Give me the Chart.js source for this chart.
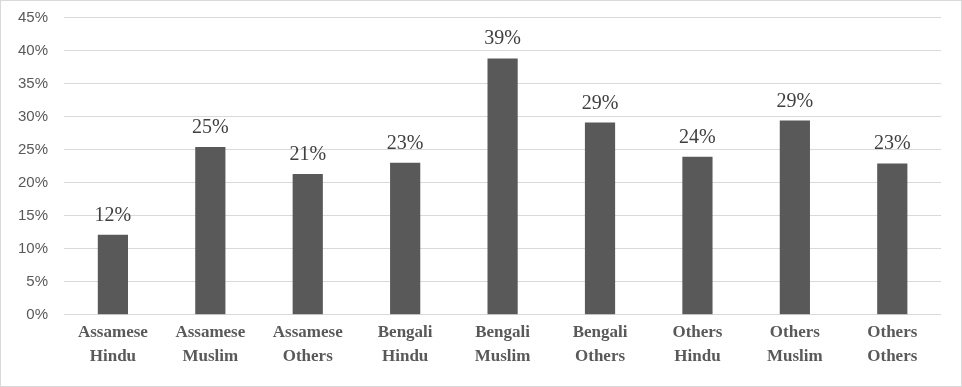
<!DOCTYPE html>
<html>
<head>
<meta charset="utf-8">
<script src="https://cdn.jsdelivr.net/npm/chart.js@4/dist/chart.umd.min.js"></script>
<style>
  html, body { margin: 0; padding: 0; background: #fff; }
  #wrap { width: 960px; height: 385px; border: 1px solid #d9d9d9; position: relative; }
</style>
</head>
<body>
<div id="wrap"><canvas id="myChart" width="960" height="385"></canvas></div>
<script>
// Categories (two-line labels) and values in percent
const categories = [
  ['Assamese', 'Hindu'], ['Assamese', 'Muslim'], ['Assamese', 'Others'],
  ['Bengali', 'Hindu'], ['Bengali', 'Muslim'], ['Bengali', 'Others'],
  ['Others', 'Hindu'], ['Others', 'Muslim'], ['Others', 'Others']
];
const shares = [12.1, 25.4, 21.3, 23.0, 38.8, 29.1, 23.9, 29.4, 22.9];
const yTicks = [0, 5, 10, 15, 20, 25, 30, 35, 40, 45];

// Simple value labels above each bar
const barLabels = {
  id: 'barLabels',
  afterDatasetsDraw(chart) {
    const ctx = chart.ctx;
    const meta = chart.getDatasetMeta(0);
    ctx.save();
    ctx.font = '20px "Liberation Serif", serif';
    ctx.fillStyle = '#404040';
    ctx.textAlign = 'center';
    ctx.textBaseline = 'alphabetic';
    meta.data.forEach((bar, i) => {
      ctx.fillText(Math.round(shares[i]) + '%', bar.x, bar.y - 14);
    });
    ctx.restore();
  }
};

let ctx = document.getElementById('myChart').getContext('2d');
window.chart = new Chart(ctx, {
  type: 'bar',
  data: {
    labels: categories,
    datasets: [{
      data: shares,
      backgroundColor: '#595959',
      barPercentage: 0.31,
      categoryPercentage: 1
    }]
  },
  options: {
    responsive: false,
    animation: false,
    layout: { padding: { top: 0, right: 20, left: 5, bottom: 11 } },
    plugins: {
      legend: { display: false },
      tooltip: { enabled: false }
    },
    scales: {
      x: {
        grid: { display: false, drawTicks: false },
        border: { display: false },
        ticks: {
          color: '#595959',
          font: { family: '"Liberation Serif", serif', size: 17, weight: 'bold', lineHeight: 1.42 },
          maxRotation: 0,
          padding: 6
        }
      },
      y: {
        min: 0,
        max: 45,
        afterBuildTicks: axis => { axis.ticks = yTicks.map(v => ({ value: v })); },
        grid: { color: '#d9d9d9', lineWidth: 1, drawTicks: false },
        border: { display: false },
        ticks: {
          color: '#595959',
          // small lineHeight keeps the top gridline high; trailing space widens the gap
          font: { family: '"Liberation Sans", sans-serif', size: 15, lineHeight: 0.6 },
          padding: 12,
          callback: v => v + '% '
        }
      }
    }
  },
  plugins: [barLabels]
});
</script>
</body>
</html>
